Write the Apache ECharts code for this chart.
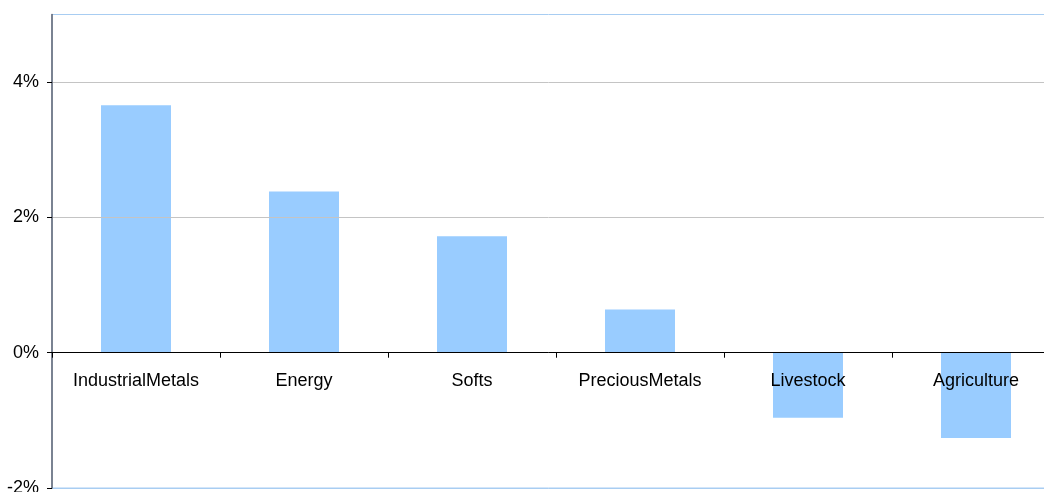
<!DOCTYPE html>
<html><head><meta charset="utf-8">
<script src="https://cdn.jsdelivr.net/npm/echarts@6/dist/echarts.min.js"></script>
<style>html,body{margin:0;padding:0;background:#fff}#c{width:1044px;height:492px}</style>
</head><body><div id="c"></div>
<script>
const categories = ['IndustrialMetals','Energy','Softs','PreciousMetals','Livestock','Agriculture'];
const values = [3.66, 2.385, 1.72, 0.64, -0.96, -1.26];
const yMin = -2, yMax = 5, yStep = 2;
const yTicks = [-2, 0, 2, 4];

const chart = echarts.init(document.getElementById('c'), null, {renderer:'canvas'});
const option = {
  animation: false,
  grid: {left: 52, top: 14.5, bottom: 4, right: -16, containLabel: false, outerBoundsMode: 'none',
    show: true, borderColor: '#a8cdf2', borderWidth: 1, backgroundColor: 'transparent'},
  xAxis: {
    type: 'category', data: categories, offset: 0, z: 10,
    axisLine: {onZero: false, lineStyle: {color: '#000', width: 1}},
    axisTick: {show: true, length: 5, lineStyle: {color: '#000'}},
    axisLabel: {color: '#000', fontFamily: 'Liberation Sans', fontSize: 18, margin: 19, interval: 0},
    splitLine: {show: false}
  },
  yAxis: {
    type: 'value', min: yMin, max: yMax, interval: yStep, z: 10,
    axisLine: {show: true, lineStyle: {color: '#5c6270', width: 1.5}},
    axisTick: {show: true, length: 5, customValues: yTicks, lineStyle: {color: '#000'}},
    axisLabel: {color: '#000', fontFamily: 'Liberation Sans', fontSize: 18, margin: 13,
      customValues: yTicks, formatter: v => v + '%'},
    splitLine: {show: true, lineStyle: {color: ['#a8cdf2', '#c4c4c4', '#c4c4c4', '#c4c4c4'], width: 1}}
  },
  series: [{
    type: 'bar', data: values, barWidth: 70, z: 2,
    itemStyle: {color: '#99ccff'}
  }]
};
chart.setOption(option);
// move the category axis to the zero line using the library's own scale
const yZero = chart.convertToPixel({yAxisIndex: 0}, 0);
const yBottom = chart.convertToPixel({yAxisIndex: 0}, yMin);
chart.setOption({xAxis: {offset: -(yBottom - yZero)}});
</script></body></html>
